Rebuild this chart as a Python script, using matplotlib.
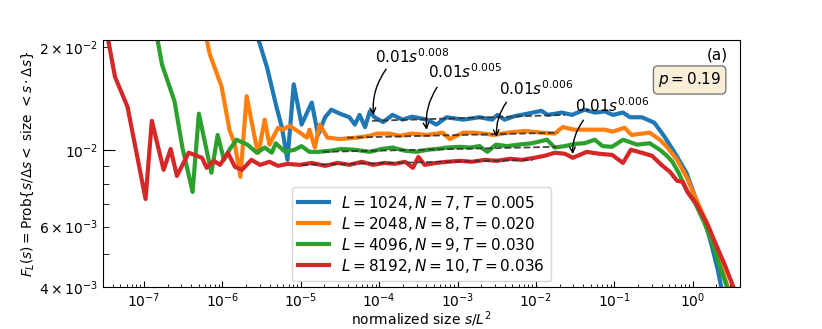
import numpy as np
import matplotlib
matplotlib.use('Agg')
import matplotlib.pyplot as plt

# curve data: log10(s/L^2) and F_L(s) in units of 1e-3
labels = [r'$L = 1024, N = 7, T = 0.005$', r'$L = 2048, N = 8, T = 0.020$',
          r'$L = 4096, N = 9, T = 0.030$', r'$L = 8192, N = 10, T = 0.036$']

logx_blue = [-5.63, -5.56, -5.43, -5.31, -5.24, -5.17, -5.09, -4.99, -4.86, -4.78, -4.69, -4.61, -4.50,
             -4.38, -4.31, -4.25, -4.18, -4.12, -4.06, -3.95, -3.83, -3.70, -3.58, -3.39, -3.27, -3.14,
             -2.93, -2.72, -2.56, -2.49, -2.40, -2.27, -2.11, -1.93, -1.85, -1.67, -1.54, -1.38, -1.25,
             -1.12, -1.02, -0.89, -0.80, -0.65, -0.49, -0.36, -0.23, -0.08, 0.03, 0.15, 0.24, 0.32, 0.37]
y_blue = [24.0, 21.8, 17.45, 13.4, 11.65, 9.39, 15.6, 11.9, 13.8, 11.1, 12.5, 13.15, 12.8,
          12.5, 11.9, 12.7, 11.7, 13.0, 12.5, 12.1, 12.7, 12.3, 12.55, 12.3, 11.9, 12.5,
          12.3, 12.5, 12.3, 12.7, 12.3, 12.6, 12.8, 13.05, 12.7, 12.9, 12.7, 13.15, 12.9,
          13.0, 12.7, 12.9, 12.5, 12.5, 12.05, 10.97, 9.85, 8.61, 7.32, 6.27, 5.30, 4.48, 3.92]

logx_orange = [-6.24, -6.16, -6.01, -5.91, -5.84, -5.77, -5.69, -5.57, -5.54, -5.46, -5.40, -5.29, -5.23,
               -5.14, -5.01, -4.92, -4.89, -4.82, -4.76, -4.66, -4.50, -4.29, -4.12, -4.03, -3.87, -3.74,
               -3.58, -3.39, -3.19, -3.10, -2.93, -2.78, -2.53, -2.36, -2.14, -1.93, -1.76, -1.66, -1.51,
               -1.31, -1.12, -1.02, -0.87, -0.78, -0.55, -0.42, -0.33, -0.20, -0.08, 0.03, 0.22, 0.32,
               0.40, 0.46]
y_orange = [23.3, 19.05, 15.35, 11.5, 10.4, 8.38, 14.4, 10.4, 9.85, 12.3, 10.4, 11.65, 11.5,
            11.8, 11.27, 10.9, 11.5, 10.2, 11.9, 10.9, 10.8, 10.9, 11.04, 11.2, 11.2, 11.04,
            11.2, 11.1, 11.27, 10.8, 11.27, 11.27, 11.1, 11.27, 11.4, 11.27, 11.2, 11.7, 11.5,
            11.5, 11.5, 11.35, 11.65, 11.1, 11.27, 10.75, 10.25, 9.39, 8.38, 7.32, 5.86, 4.95,
            4.33, 3.92]

logx_green = [-6.93, -6.84, -6.77, -6.61, -6.51, -6.38, -6.30, -6.14, -6.06, -5.98, -5.91, -5.82, -5.68,
              -5.56, -5.46, -5.37, -5.32, -5.20, -5.08, -4.99, -4.89, -4.78, -4.63, -4.48, -4.31, -4.12,
              -3.97, -3.83, -3.67, -3.52, -3.38, -3.27, -3.13, -2.97, -2.84, -2.72, -2.62, -2.51, -2.37,
              -2.23, -2.05, -1.86, -1.76, -1.63, -1.51, -1.38, -1.25, -1.15, -1.03, -0.89, -0.71, -0.55,
              -0.42, -0.33, -0.26, -0.18, -0.08, 0.03, 0.15, 0.26, 0.34, 0.42, 0.47]
y_green = [25.0, 21.8, 17.8, 13.9, 10.2, 7.57, 12.8, 8.61, 11.1, 9.39, 10.05, 10.75, 10.4,
           9.85, 10.2, 9.85, 10.5, 9.91, 10.05, 10.3, 9.91, 9.91, 9.98, 10.1, 10.05, 9.91,
           10.1, 10.2, 9.98, 9.91, 10.05, 10.1, 10.2, 10.25, 10.2, 10.3, 9.91, 10.4, 10.3,
           10.4, 10.5, 10.75, 10.2, 10.3, 10.45, 10.5, 10.75, 10.3, 10.25, 10.75, 10.4, 10.5,
           10.05, 9.65, 9.27, 8.61, 7.67, 7.03, 6.14, 5.30, 4.63, 4.10, 3.80]

logx_red = [-7.60, -7.47, -7.37, -7.21, -6.98, -6.90, -6.75, -6.66, -6.58, -6.43, -6.26, -6.20, -6.11,
            -6.03, -5.93, -5.84, -5.75, -5.63, -5.52, -5.40, -5.29, -5.17, -5.01, -4.86, -4.69, -4.53,
            -4.38, -4.22, -4.08, -3.93, -3.80, -3.67, -3.57, -3.50, -3.42, -3.27, -3.14, -2.97, -2.82,
            -2.65, -2.50, -2.33, -2.18, -2.02, -1.89, -1.76, -1.63, -1.53, -1.35, -1.19, -1.03, -0.89,
            -0.79, -0.65, -0.52, -0.40, -0.29, -0.20, -0.13, -0.06, 0.04, 0.18, 0.31, 0.41, 0.50, 0.55]
y_red = [25.0, 21.8, 16.4, 13.4, 7.22, 12.2, 8.78, 10.1, 8.43, 9.85, 9.52, 8.90, 9.33,
         9.08, 9.85, 8.96, 8.78, 9.39, 9.08, 9.27, 9.02, 9.14, 9.08, 9.20, 9.02, 9.20,
         9.08, 9.27, 9.08, 9.20, 9.14, 9.27, 8.90, 9.58, 9.08, 9.20, 9.27, 9.33, 9.27,
         9.39, 9.33, 9.46, 9.39, 9.52, 9.65, 9.85, 9.78, 9.52, 9.91, 9.78, 9.71, 9.20,
         10.05, 9.85, 9.65, 9.08, 8.66, 8.16, 8.10, 7.52, 7.03, 6.14, 5.23, 4.63, 4.10, 3.80]

# power-law fits: end points (log10 x, y in 1e-3) and labels
fit_logx = [[-4.09, -1.63], [-4.41, -1.72], [-4.72, -1.74], [-4.99, -2.04]]
fit_y = [[12.2, 12.7], [10.9, 11.27], [9.91, 10.25], [9.08, 9.39]]
fit_labels = [r'$0.01s^{0.008}$', r'$0.01s^{0.005}$', r'$0.01s^{0.006}$', r'$0.01s^{0.006}$']
# arrow tips in data (log10 x, y in 1e-3)
tip_logx = [-4.07, -3.39, -2.50, -1.53]
tip_y = [12.46, 11.27, 10.75, 9.58]

curves = [(logx_blue, y_blue), (logx_orange, y_orange), (logx_green, y_green), (logx_red, y_red)]
colors = ['C0', 'C1', 'C2', 'C3']

fig = plt.figure(figsize=(8.22, 3.29), dpi=100)
ax = fig.add_axes([0.1253, 0.1277, 0.7749, 0.7508])

for (lx, yy), c, lab in zip(curves, colors, labels):
    ax.plot(10 ** np.array(lx), np.array(yy) * 1e-3, color=c, lw=3, label=lab)

for lx, yy in zip(fit_logx, fit_y):
    ax.plot(10 ** np.array(lx), np.array(yy) * 1e-3, ls='--', color='#333333', lw=1.3, alpha=0.9)

# annotation text/arrow positions in axes fraction
text_pos = [(0.427, 0.907), (0.510, 0.846), (0.622, 0.777), (0.741, 0.709)]
arrow_start = [(0.447, 0.891), (0.527, 0.818), (0.636, 0.757), (0.757, 0.684)]
for lab, tp, st, tx, ty in zip(fit_labels, text_pos, arrow_start, tip_logx, tip_y):
    ax.text(tp[0], tp[1], lab, transform=ax.transAxes, fontsize=11, ha='left', va='baseline')
    ax.annotate('', xy=(10 ** tx, ty * 1e-3), xycoords='data', xytext=st, textcoords='axes fraction',
                arrowprops=dict(arrowstyle='->', connectionstyle='arc3,rad=0.2', color='k', lw=1))

ax.set_xscale('log')
ax.set_yscale('log')
ax.set_xlim(3e-8, 4.0)
ax.set_ylim(4e-3, 2.1e-2)

ax.tick_params(which='both', direction='in', labelsize=10)
ax.tick_params(axis='y', which='major', length=8.5)
ax.tick_params(axis='y', which='minor', length=4.5)
ax.tick_params(axis='x', which='major', length=4.5)
ax.tick_params(axis='x', which='minor', length=2.5)

ax.set_xlabel(r'normalized size $s/L^2$', fontsize=10, labelpad=-1)
ax.set_ylabel(r'$F_L(s) = \mathrm{Prob}\{s/\Delta s <$ size $< s\cdot\Delta s\}$', fontsize=9.8, labelpad=2)

ax.text(0.981, 0.939, '(a)', transform=ax.transAxes, fontsize=11, ha='right', va='center')
ax.text(0.921, 0.838, r'$p = 0.19$', transform=ax.transAxes, fontsize=11, ha='center', va='center',
        bbox=dict(boxstyle='round', facecolor='wheat', alpha=0.5))

ax.legend(loc='lower center', fontsize=11, labelspacing=0.2, borderaxespad=0.4)

fig.savefig('out.png', dpi=100)
